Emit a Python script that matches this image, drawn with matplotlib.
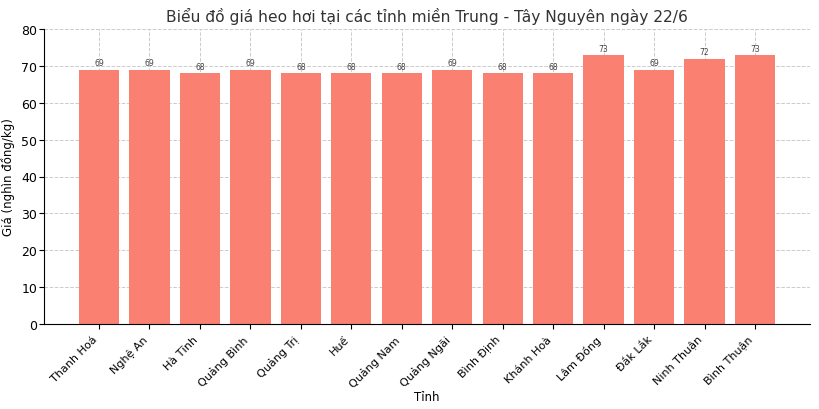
import matplotlib
matplotlib.use("Agg")
import matplotlib.pyplot as plt

tinh = ["Thanh Hoá", "Nghệ An", "Hà Tĩnh", "Quảng Bình", "Quảng Trị", "Huế",
        "Quảng Nam", "Quảng Ngãi", "Bình Định", "Khánh Hoà", "Lâm Đồng",
        "Đắk Lắk", "Ninh Thuận", "Bình Thuận"]
gia = [69, 69, 68, 69, 68, 68, 68, 69, 68, 68, 73, 69, 72, 73]

fig = plt.figure(figsize=(8.2, 4.1), dpi=100)
ax = fig.add_axes([44 / 820, 1 - 325 / 410, (810 - 44) / 820, (325 - 30) / 410])

x = range(len(tinh))
bars = ax.bar(x, gia, width=0.8, color="salmon")
for b, v in zip(bars, gia):
    ax.text(b.get_x() + b.get_width() / 2, v + 0.6, str(v), ha="center", va="bottom",
            fontsize=5.5, color="#444444")

ax.set_xticks(list(x))
ax.set_xticklabels(tinh, rotation=45, ha="right", fontsize=8)
ax.tick_params(axis="y", labelsize=9, pad=1.5, length=3.5)
ax.tick_params(axis="x", length=3.5)
ax.set_xlim(-1.09, len(tinh) - 1 + 1.09)
ax.set_ylim(0, 80)
ax.grid(True, linestyle="--", color="#cccccc", linewidth=0.7)
ax.set_axisbelow(True)
ax.spines["top"].set_visible(False)
ax.spines["right"].set_visible(False)

ax.set_title("Biểu đồ giá heo hơi tại các tỉnh miền Trung - Tây Nguyên ngày 22/6",
             fontsize=11.2, color="#333333")
ax.set_xlabel("Tỉnh", fontsize=8.5, labelpad=1)
ax.set_ylabel("Giá (nghìn đồng/kg)", fontsize=8.5, labelpad=4)

fig.savefig("out.png", dpi=100)
